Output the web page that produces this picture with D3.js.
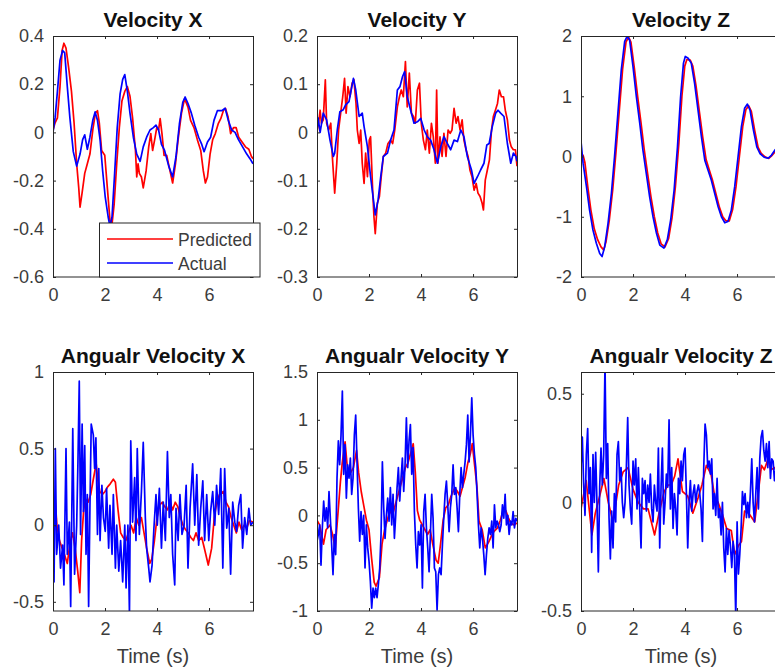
<!DOCTYPE html>
<meta charset="utf-8">
<style>

body {
  margin: 0;
  background: #fff;
}

text {
  font-family: "Liberation Sans", Arial, Helvetica, sans-serif;
}

</style>
<body>
<script src="https://d3js.org/d3.v7.min.js"></script>
<script>

// [time (s), value] pairs
var velXPred = [[0,0.01],[0.08,0.04],[0.17,0.06],[0.27,0.19],[0.35,0.34],[0.42,0.37],[0.5,0.35],[0.6,0.27],[0.71,0.17],[0.81,0.04],[0.91,-0.13],[0.99,-0.23],[1.04,-0.31],[1.12,-0.25],[1.22,-0.17],[1.32,-0.13],[1.42,-0.09],[1.53,0.01],[1.63,0.08],[1.71,0.09],[1.78,0.04],[1.87,-0.075],[1.99,-0.095],[2.09,-0.23],[2.19,-0.365],[2.27,-0.38],[2.35,-0.3],[2.45,-0.13],[2.55,0.02],[2.65,0.13],[2.76,0.17],[2.86,0.19],[2.96,0.15],[3.06,0.06],[3.17,-0.075],[3.22,-0.185],[3.27,-0.13],[3.32,-0.17],[3.4,-0.185],[3.47,-0.23],[3.58,-0.16],[3.68,-0.06],[3.76,-0.005],[3.83,-0.075],[3.91,-0.03],[3.99,0.02],[4.06,0.01],[4.12,0.057],[4.19,-0.005],[4.27,-0.095],[4.37,-0.095],[4.47,-0.145],[4.6,-0.21],[4.71,-0.13],[4.81,-0.03],[4.94,0.08],[5.06,0.14],[5.19,0.105],[5.29,0.05],[5.42,0.02],[5.55,-0.03],[5.68,-0.075],[5.78,-0.16],[5.86,-0.21],[5.94,-0.185],[6.04,-0.09],[6.14,-0.03],[6.24,-0.005],[6.35,0.035],[6.45,0.057],[6.55,0.09],[6.63,0.1],[6.73,0.065],[6.83,-0.005],[6.94,0.02],[7.04,0.02],[7.14,-0.02],[7.27,-0.04],[7.4,-0.06],[7.53,-0.07],[7.63,-0.1],[7.69,-0.11]];
var velXAct = [[0,0],[0.08,0.06],[0.17,0.17],[0.27,0.3],[0.37,0.34],[0.45,0.33],[0.55,0.19],[0.65,0.06],[0.78,-0.08],[0.91,-0.14],[1.04,-0.09],[1.14,-0.03],[1.22,-0.01],[1.32,-0.07],[1.42,-0.02],[1.53,0.05],[1.62,0.085],[1.71,0.05],[1.81,-0.03],[1.91,-0.16],[2.01,-0.27],[2.12,-0.35],[2.19,-0.39],[2.27,-0.35],[2.37,-0.17],[2.47,0.02],[2.58,0.16],[2.68,0.22],[2.76,0.24],[2.86,0.17],[2.96,0.08],[3.09,-0.02],[3.22,-0.09],[3.35,-0.12],[3.47,-0.06],[3.6,-0.02],[3.73,0.01],[3.86,0.02],[3.96,0.03],[4.06,0.01],[4.17,-0.05],[4.29,-0.075],[4.45,-0.14],[4.6,-0.185],[4.73,-0.1],[4.86,0.035],[4.99,0.125],[5.08,0.147],[5.19,0.12],[5.32,0.08],[5.45,0.03],[5.6,-0.02],[5.72,-0.05],[5.81,-0.08],[5.94,-0.04],[6.06,-0.02],[6.19,0.05],[6.32,0.09],[6.49,0.09],[6.62,0.1],[6.74,0.05],[6.87,0.01],[7,0],[7.13,-0.03],[7.29,-0.06],[7.45,-0.09],[7.58,-0.11],[7.69,-0.13]];

var velYPred = [[0,-0.016],[0.01,0.005],[0.06,0.019],[0.12,0.046],[0.17,0.019],[0.24,0.026],[0.32,0.109],[0.37,0.019],[0.45,0.005],[0.53,0.019],[0.59,-0.05],[0.68,-0.126],[0.76,-0.064],[0.83,0.005],[0.91,0.04],[0.99,0.074],[1.06,0.112],[1.12,0.04],[1.19,0.095],[1.27,0.074],[1.35,0.102],[1.42,0.109],[1.5,0.06],[1.55,0.005],[1.62,-0.023],[1.68,0.005],[1.74,-0.064],[1.81,-0.106],[1.87,-0.043],[1.94,-0.092],[2.01,-0.016],[2.06,-0.009],[2.14,-0.12],[2.19,-0.175],[2.24,-0.21],[2.32,-0.147],[2.4,-0.133],[2.47,-0.092],[2.55,-0.05],[2.64,-0.043],[2.73,-0.023],[2.83,-0.016],[2.91,-0.023],[2.99,0.005],[3.09,0.053],[3.17,0.074],[3.24,0.088],[3.32,0.074],[3.4,0.147],[3.47,0.053],[3.55,0.123],[3.63,0.04],[3.71,0.033],[3.78,0.019],[3.86,0.088],[3.94,0.102],[4.01,0.019],[4.09,-0.016],[4.17,-0.036],[4.24,0.005],[4.32,-0.043],[4.4,0.019],[4.47,-0.009],[4.55,-0.064],[4.6,0.088],[4.65,-0.064],[4.73,-0.009],[4.81,-0.05],[4.88,-0.002],[4.96,-0.05],[5.04,0.005],[5.12,-0.002],[5.19,0.005],[5.27,0.05],[5.35,0.019],[5.42,0.033],[5.5,0.005],[5.58,0.026],[5.65,-0.016],[5.73,-0.036],[5.81,-0.05],[5.88,-0.078],[5.96,-0.092],[6.04,-0.12],[6.12,-0.106],[6.19,-0.126],[6.27,-0.133],[6.35,-0.147],[6.4,-0.161],[6.47,-0.099],[6.55,-0.078],[6.63,-0.057],[6.71,0.005],[6.78,0.033],[6.86,0.046],[6.94,0.06],[7.01,0.088],[7.09,0.074],[7.17,0.074],[7.24,0.046],[7.32,0.026],[7.4,-0.016],[7.47,-0.03],[7.55,-0.036],[7.63,-0.036],[7.69,-0.07]];
var velYAct = [[0,0.005],[0.04,0.03],[0.12,0],[0.24,0.04],[0.37,0.026],[0.5,-0.016],[0.63,-0.05],[0.68,-0.043],[0.78,0.005],[0.88,0.043],[1.01,0.047],[1.1,0.057],[1.23,0.064],[1.4,0.112],[1.49,0.088],[1.62,0.033],[1.74,0.04],[1.81,0.012],[1.94,-0.03],[2.06,-0.092],[2.17,-0.14],[2.24,-0.171],[2.35,-0.14],[2.45,-0.092],[2.55,-0.05],[2.71,-0.043],[2.83,-0.016],[2.96,0.005],[3.09,0.088],[3.19,0.095],[3.29,0.116],[3.37,0.126],[3.47,0.074],[3.6,0.046],[3.73,0.019],[3.86,0.022],[3.99,0.029],[4.12,0.005],[4.24,-0.009],[4.37,-0.016],[4.5,-0.036],[4.63,-0.064],[4.76,-0.03],[4.88,-0.009],[5.01,-0.023],[5.14,-0.036],[5.27,-0.016],[5.4,-0.019],[5.53,0.005],[5.65,-0.009],[5.78,-0.05],[5.94,-0.078],[6.04,-0.106],[6.17,-0.092],[6.29,-0.078],[6.42,-0.064],[6.53,-0.026],[6.62,-0.023],[6.74,0.012],[6.87,0.04],[6.96,0.046],[7.06,0.04],[7.19,0.033],[7.32,-0.023],[7.45,-0.064],[7.55,-0.043],[7.65,-0.05],[7.69,-0.06]];

var velZPred = [[0,0.05],[0.08,0.02],[0.15,-0.1],[0.26,-0.5],[0.38,-0.89],[0.51,-1.2],[0.64,-1.38],[0.77,-1.5],[0.87,-1.55],[0.96,-1.42],[1.09,-1.05],[1.22,-0.55],[1.34,0.05],[1.47,0.75],[1.6,1.45],[1.73,1.9],[1.83,1.98],[1.92,1.9],[2.05,1.47],[2.18,0.99],[2.31,0.55],[2.43,0.12],[2.56,-0.28],[2.69,-0.67],[2.82,-1],[2.95,-1.27],[3.08,-1.45],[3.23,-1.5],[3.37,-1.36],[3.5,-1.02],[3.63,-0.5],[3.76,0.2],[3.88,1],[3.99,1.5],[4.07,1.61],[4.2,1.6],[4.3,1.5],[4.42,1.18],[4.55,0.75],[4.68,0.32],[4.81,-0.05],[4.93,-0.22],[5.06,-0.4],[5.19,-0.62],[5.32,-0.84],[5.45,-1],[5.58,-1.07],[5.7,-1.07],[5.83,-0.88],[5.96,-0.5],[6.09,0],[6.22,0.5],[6.34,0.78],[6.45,0.84],[6.55,0.75],[6.68,0.43],[6.81,0.15],[6.93,0.05],[7.09,-0.01],[7.22,-0.03],[7.35,0.02],[7.5,0.1],[7.69,0.18]];
var velZAct = [[0,0.25],[0.08,-0.11],[0.21,-0.5],[0.33,-0.89],[0.46,-1.22],[0.59,-1.44],[0.72,-1.61],[0.81,-1.66],[0.91,-1.5],[1.04,-1.11],[1.17,-0.61],[1.29,0],[1.42,0.72],[1.55,1.44],[1.68,1.91],[1.78,2],[1.87,1.93],[2,1.49],[2.13,0.99],[2.26,0.55],[2.38,0.11],[2.51,-0.28],[2.64,-0.67],[2.77,-1],[2.9,-1.27],[3.03,-1.47],[3.19,-1.52],[3.32,-1.38],[3.45,-1.05],[3.58,-0.56],[3.71,0.16],[3.83,0.99],[3.94,1.55],[4.01,1.66],[4.12,1.63],[4.24,1.55],[4.37,1.21],[4.5,0.77],[4.63,0.33],[4.76,-0.06],[4.88,-0.22],[5.01,-0.39],[5.14,-0.61],[5.27,-0.83],[5.4,-1],[5.53,-1.1],[5.65,-1.08],[5.78,-0.89],[5.91,-0.5],[6.04,0],[6.17,0.5],[6.29,0.8],[6.4,0.87],[6.5,0.77],[6.63,0.44],[6.76,0.16],[6.88,0.05],[7.04,-0.01],[7.19,-0.03],[7.32,0.02],[7.46,0.11],[7.69,0.2]];

var angXPred = [[0,-0.02],[0.08,0.18],[0.15,0],[0.25,-0.1],[0.35,-0.15],[0.42,-0.18],[0.55,-0.25],[0.65,-0.12],[0.75,-0.05],[0.85,-0.15],[0.95,-0.3],[1.03,-0.44],[1.1,-0.1],[1.18,0.1],[1.25,0.17],[1.35,0.15],[1.45,0.2],[1.55,0.3],[1.66,0.4],[1.72,0.3],[1.8,0.22],[1.9,0.2],[2,0.22],[2.1,0.25],[2.2,0.27],[2.32,0.3],[2.4,0.28],[2.5,0.1],[2.6,-0.05],[2.7,-0.08],[2.8,-0.1],[2.9,-0.05],[3,0],[3.1,-0.05],[3.2,0.05],[3.3,0],[3.4,0.05],[3.5,-0.05],[3.6,-0.15],[3.72,-0.25],[3.8,-0.22],[3.9,-0.1],[4,0.05],[4.1,0.13],[4.2,0.15],[4.3,0.12],[4.4,0.1],[4.5,0.15],[4.6,0.1],[4.7,0.15],[4.8,0.12],[4.9,0.05],[5,0],[5.1,-0.03],[5.2,-0.05],[5.3,-0.08],[5.4,-0.1],[5.5,-0.05],[5.6,-0.1],[5.72,-0.08],[5.82,-0.15],[5.97,-0.26],[6.1,-0.15],[6.2,0.05],[6.3,0.15],[6.4,0.2],[6.55,0.22],[6.65,0.15],[6.75,0.12],[6.85,0.05],[6.95,0],[7.05,-0.05],[7.15,0.02],[7.25,-0.03],[7.35,0],[7.45,-0.02],[7.55,0.03],[7.69,0.02]];
var angXAct = [[0,0.13],[0.04,-0.37],[0.09,0.5],[0.14,-0.19],[0.22,0],[0.29,-0.28],[0.37,-0.13],[0.42,-0.39],[0.5,0.5],[0.55,-0.19],[0.63,0.02],[0.68,-0.53],[0.76,0.63],[0.83,-0.32],[0.91,0],[0.96,0.42],[1.01,0.94],[1.06,-0.06],[1.12,0.66],[1.17,0.09],[1.22,0.52],[1.27,-0.19],[1.32,0.2],[1.37,-0.53],[1.42,0.11],[1.47,0.66],[1.55,0.59],[1.6,0.37],[1.65,0.57],[1.71,-0.06],[1.76,0.37],[1.81,-0.1],[1.88,0.26],[1.94,0.05],[2.01,-0.04],[2.06,0.24],[2.14,-0.15],[2.19,0.13],[2.27,-0.19],[2.32,0.2],[2.4,-0.28],[2.45,0],[2.53,-0.3],[2.6,-0.1],[2.68,-0.37],[2.76,0],[2.81,-0.41],[2.88,0],[2.94,-0.58],[2.99,0.55],[3.06,0.02],[3.14,0.31],[3.19,-0.1],[3.24,0.5],[3.32,-0.06],[3.4,0.22],[3.47,0.54],[3.55,0.05],[3.6,-0.15],[3.68,-0.28],[3.73,-0.37],[3.81,-0.26],[3.88,-0.02],[3.96,0.2],[4.01,0],[4.09,0.24],[4.17,-0.15],[4.24,0.15],[4.32,-0.1],[4.4,0.48],[4.47,0.05],[4.53,0.2],[4.6,-0.19],[4.68,-0.39],[4.73,0.11],[4.81,-0.1],[4.88,0.2],[4.96,-0.06],[5.04,0],[5.12,0.26],[5.19,-0.28],[5.27,0.11],[5.37,0.4],[5.45,0],[5.53,0.33],[5.6,-0.13],[5.68,0.11],[5.76,0.29],[5.83,-0.1],[5.91,0.2],[5.99,-0.1],[6.06,0.09],[6.14,0.22],[6.22,0],[6.29,0.26],[6.37,0.07],[6.45,0.37],[6.53,-0.28],[6.6,0.37],[6.68,-0.02],[6.76,0.11],[6.83,-0.32],[6.91,0.15],[6.99,0.02],[7.06,-0.04],[7.14,0.13],[7.22,0.2],[7.29,-0.15],[7.37,0.05],[7.45,-0.06],[7.53,0.11],[7.6,0],[7.69,0.02]];

var angYPred = [[0,-0.05],[0.1,-0.1],[0.25,-0.3],[0.35,-0.15],[0.5,-0.1],[0.6,-0.2],[0.7,-0.35],[0.8,0],[0.9,0.35],[0.97,0.55],[1.08,0.77],[1.15,0.55],[1.2,0.45],[1.3,0.45],[1.4,0.5],[1.52,0.68],[1.6,0.45],[1.7,0.25],[1.8,0.1],[1.9,-0.05],[2,-0.15],[2.1,-0.45],[2.2,-0.7],[2.27,-0.74],[2.4,-0.65],[2.5,-0.3],[2.6,-0.15],[2.7,-0.05],[2.8,0.05],[2.9,0],[3,0.1],[3.1,0.2],[3.2,0.3],[3.3,0.4],[3.4,0.5],[3.5,0.55],[3.6,0.65],[3.7,0.75],[3.78,0.45],[3.86,0.05],[3.95,-0.05],[4.05,-0.1],[4.15,-0.15],[4.25,-0.2],[4.35,-0.15],[4.45,-0.3],[4.58,-0.47],[4.66,-0.5],[4.75,-0.3],[4.85,-0.05],[4.95,0.08],[5.05,0.11],[5.15,0.2],[5.3,0.29],[5.4,0.25],[5.5,0.2],[5.6,0.3],[5.7,0.4],[5.8,0.55],[5.9,0.65],[5.97,0.75],[6.05,0.55],[6.15,0.3],[6.23,-0.06],[6.35,-0.15],[6.47,-0.34],[6.6,-0.28],[6.7,-0.22],[6.8,-0.17],[6.94,-0.13],[7.05,-0.05],[7.15,0.05],[7.26,0.05],[7.35,-0.02],[7.45,-0.08],[7.58,-0.1],[7.69,-0.08]];
// Actual angular velocity Y, sampled every angYStep seconds
var angYStep = 0.0513;
var angYAct = [-0.27,-0.2,-0.1,-0.52,-0.13,0.15,-0.06,0.08,-0.13,0.25,-0.03,-0.31,-0.62,-0.2,-0.41,0.39,0.78,0.53,0.84,1.3,0.43,0.74,0.18,0.53,0.39,0.6,0.22,0.39,0.84,1.05,0.56,0.08,-0.27,0.04,-0.2,0,-0.55,-0.1,-0.34,-0.48,-0.69,-0.97,-0.76,-0.86,-0.76,-0.86,-0.72,-0.55,-0.2,0.56,0.08,-0.24,0,0.18,-0.06,0.29,-0.1,0.22,-0.24,0,0.29,0.5,0.15,0.39,0.6,0.25,0.53,1.02,0.5,0.78,0.95,0.43,0.71,0.04,-0.31,-0.55,-0.17,-0.31,-0.1,-0.76,0.04,0.22,-0.13,-0.34,-0.59,-0.2,0.22,-0.03,-0.55,-0.59,-0.99,-0.62,-0.55,-0.62,-0.31,-0.03,0.22,0.36,0.11,-0.17,0.08,0.22,0.53,0.22,0.29,0.08,-0.17,0.22,0.5,0.29,0.43,0.56,0.74,1.05,0.56,0.84,1.23,0.84,0.64,0.5,0.22,-0.1,-0.34,-0.13,-0.24,-0.41,-0.62,-0.41,-0.24,-0.13,-0.2,-0.06,-0.34,0.11,-0.13,-0.06,-0.1,-0.17,-0.1,0.11,-0.03,0.22,-0.1,0,-0.2,-0.06,-0.1,0.04,-0.13,-0.03,-0.06];

var angZPred = [[0,-0.03],[0.2,0.1],[0.42,-0.15],[0.55,-0.05],[0.72,0.03],[0.88,0.11],[1.05,0],[1.23,-0.09],[1.45,0.08],[1.62,0.14],[1.81,0.16],[2,0.06],[2.2,0],[2.4,-0.03],[2.58,-0.03],[2.83,-0.15],[3,-0.05],[3.2,0.05],[3.35,0.08],[3.47,0.08],[3.6,0.12],[3.73,0.2],[3.9,0.05],[4.1,0.03],[4.3,-0.05],[4.5,0.02],[4.65,0.08],[4.82,0.17],[5,0.13],[5.15,0.02],[5.27,0],[5.45,-0.06],[5.6,-0.12],[5.78,-0.13],[5.91,-0.24],[6.05,-0.2],[6.17,-0.18],[6.29,-0.04],[6.45,-0.05],[6.68,-0.09],[6.8,0.03],[6.94,0.17],[7.05,0.15],[7.19,0.2],[7.3,0.15],[7.45,0.16],[7.6,0.12],[7.69,0.1]];
// Actual angular velocity Z, sampled every angZStep seconds
var angZStep = 0.0513;
var angZAct = [0.16,0.3,0.08,-0.06,0.22,0.34,0.04,0.16,-0.23,0.22,0,0.23,-0.01,-0.32,0.07,0.25,0.08,0.22,0.64,0.11,0.27,-0.07,-0.26,-0.04,-0.21,0.04,-0.09,0.22,0.28,0.1,0.16,0,-0.07,0,0.16,0.39,0.08,-0.03,-0.1,0.19,0.08,0.2,-0.03,0.16,-0.03,-0.21,0.11,0.04,0.1,-0.04,0.08,0,0.13,-0.03,-0.09,0.08,0,-0.04,0.25,-0.21,0.07,0.25,-0.1,0,0.13,0.07,0.38,-0.03,0.16,-0.12,0.04,-0.03,-0.15,0.11,0.04,0.19,0.1,0.22,0.25,0.04,-0.21,0,0.1,-0.04,0.04,0.08,0,0.05,0.08,0.04,-0.03,-0.18,0.16,0.36,0.31,0.16,0.19,0.13,0.2,-0.03,0.04,-0.06,0.11,-0.07,-0.03,-0.15,0,-0.21,-0.32,-0.12,-0.24,-0.13,-0.2,-0.3,-0.18,-0.24,-0.53,-0.09,-0.33,-0.24,-0.12,0.05,-0.01,0.04,-0.07,0,-0.07,0.05,0.2,0,-0.09,0.04,0.16,-0.03,0.2,0.3,0.33,0.24,0.19,0.27,0.16,0.28,0.11,0.2,0.19,0.1,0.16,0,0.11,0.16,0.08,0.13,0.1];

var titles = ["Velocity X", "Velocity Y", "Velocity Z",
              "Angualr Velocity X", "Angualr Velocity Y", "Angualr Velocity Z"];
var xTicks = [0, 2, 4, 6];
var velXTicks = [-0.6, -0.4, -0.2, 0, 0.2, 0.4],
    velYTicks = [-0.3, -0.2, -0.1, 0, 0.1, 0.2],
    velZTicks = [-2, -1, 0, 1, 2],
    angXTicks = [-0.5, 0, 0.5, 1],
    angYTicks = [-1, -0.5, 0, 0.5, 1, 1.5],
    angZTicks = [-0.5, 0, 0.5];
var legendLabels = ["Predicted", "Actual"];

function sampled(values, step) {
  return values.map(function(v, i) { return [i * step, v]; });
}

var panels = [
  {pred: velXPred, act: velXAct, y: [-0.6, 0.4], ticks: velXTicks},
  {pred: velYPred, act: velYAct, y: [-0.3, 0.2], ticks: velYTicks},
  {pred: velZPred, act: velZAct, y: [-2, 2], ticks: velZTicks},
  {pred: angXPred, act: angXAct, y: [-0.56, 1], ticks: angXTicks},
  {pred: angYPred, act: sampled(angYAct, angYStep), y: [-1, 1.5], ticks: angYTicks},
  {pred: angZPred, act: sampled(angZAct, angZStep), y: [-0.5, 0.6], ticks: angZTicks}
];

var width = 775,
    height = 672,
    tMax = 7.69,
    colLeft = [53, 317, 581],
    rowTop = [36, 372],
    rowH = [241, 239],
    plotW = 200,
    lineW = 1.7,
    ink = "#262626";

var fmt = function(v) { return String(+v.toFixed(2)); };

var svg = d3.select("body").append("svg")
    .attr("width", width)
    .attr("height", height);

panels.forEach(function(p, i) {
  var col = i % 3, row = Math.floor(i / 3),
      left = colLeft[col], top = rowTop[row], h = rowH[row];

  var x = d3.scaleLinear().domain([0, tMax]).range([0, plotW]);
  var y = d3.scaleLinear().domain(p.y).range([h, 0]);

  var g = svg.append("g").attr("transform", "translate(" + left + "," + top + ")");

  g.append("clipPath").attr("id", "clip" + i)
    .append("rect").attr("width", plotW).attr("height", h);

  var line = d3.line().x(function(d) { return x(d[0]); }).y(function(d) { return y(d[1]); });

  var lines = g.append("g").attr("clip-path", "url(#clip" + i + ")");
  lines.append("path").datum(p.pred)
      .attr("d", line).attr("fill", "none")
      .attr("stroke", "#ff0000").attr("stroke-width", lineW).attr("stroke-linejoin", "round");
  lines.append("path").datum(p.act)
      .attr("d", line).attr("fill", "none")
      .attr("stroke", "#0000ff").attr("stroke-width", lineW).attr("stroke-linejoin", "round");

  var axes = [
    g.append("g").attr("transform", "translate(0," + h + ")")
      .call(d3.axisBottom(x).tickValues(xTicks).tickSize(-3).tickSizeOuter(0).tickPadding(11).tickFormat(fmt)),
    g.append("g")
      .call(d3.axisTop(x).tickValues(xTicks).tickSize(-3).tickSizeOuter(0).tickFormat("")),
    g.append("g")
      .call(d3.axisLeft(y).tickValues(p.ticks).tickSize(-3).tickSizeOuter(0).tickPadding(9).tickFormat(fmt)),
    g.append("g").attr("transform", "translate(" + plotW + ",0)")
      .call(d3.axisRight(y).tickValues(p.ticks).tickSize(-3).tickSizeOuter(0).tickFormat(""))
  ];
  axes.forEach(function(a) {
    a.select(".domain").remove();
    a.selectAll("line").attr("stroke", ink);
    a.selectAll("text").attr("fill", "#3c3c3c").style("font-size", "18px")
      .style("font-family", "'Liberation Sans', Arial, sans-serif");
  });

  g.append("rect")
      .attr("x", 0.5).attr("y", 0.5)
      .attr("width", plotW).attr("height", h - 0.5)
      .attr("fill", "none").attr("stroke", ink).attr("stroke-width", 1);

  g.append("text")
      .attr("x", plotW / 2).attr("y", -9)
      .attr("text-anchor", "middle")
      .attr("fill", "#111")
      .style("font-size", "21px").style("font-weight", "bold")
      .text(titles[i]);

  if (row === 1) {
    g.append("text")
        .attr("x", plotW / 2).attr("y", h + 52)
        .attr("text-anchor", "middle")
        .attr("fill", "#3c3c3c")
        .style("font-size", "20px")
        .text("Time (s)");
  }

  if (i === 0) {
    var lg = g.append("g").attr("transform", "translate(46.5," + (h - 54) + ")");
    lg.append("rect")
        .attr("width", 160.5).attr("height", 54)
        .attr("fill", "#fff").attr("stroke", ink).attr("stroke-width", 1);
    legendLabels.forEach(function(label, k) {
      var ly = 16 + k * 24;
      lg.append("line")
          .attr("x1", 7.5).attr("x2", 73.5).attr("y1", ly).attr("y2", ly)
          .attr("stroke", k === 0 ? "#ff0000" : "#0000ff").attr("stroke-width", lineW);
      lg.append("text")
          .attr("x", 78.5).attr("y", ly + 6.5)
          .attr("fill", "#3c3c3c")
          .style("font-size", "17.5px")
          .text(label);
    });
  }
});

</script>
